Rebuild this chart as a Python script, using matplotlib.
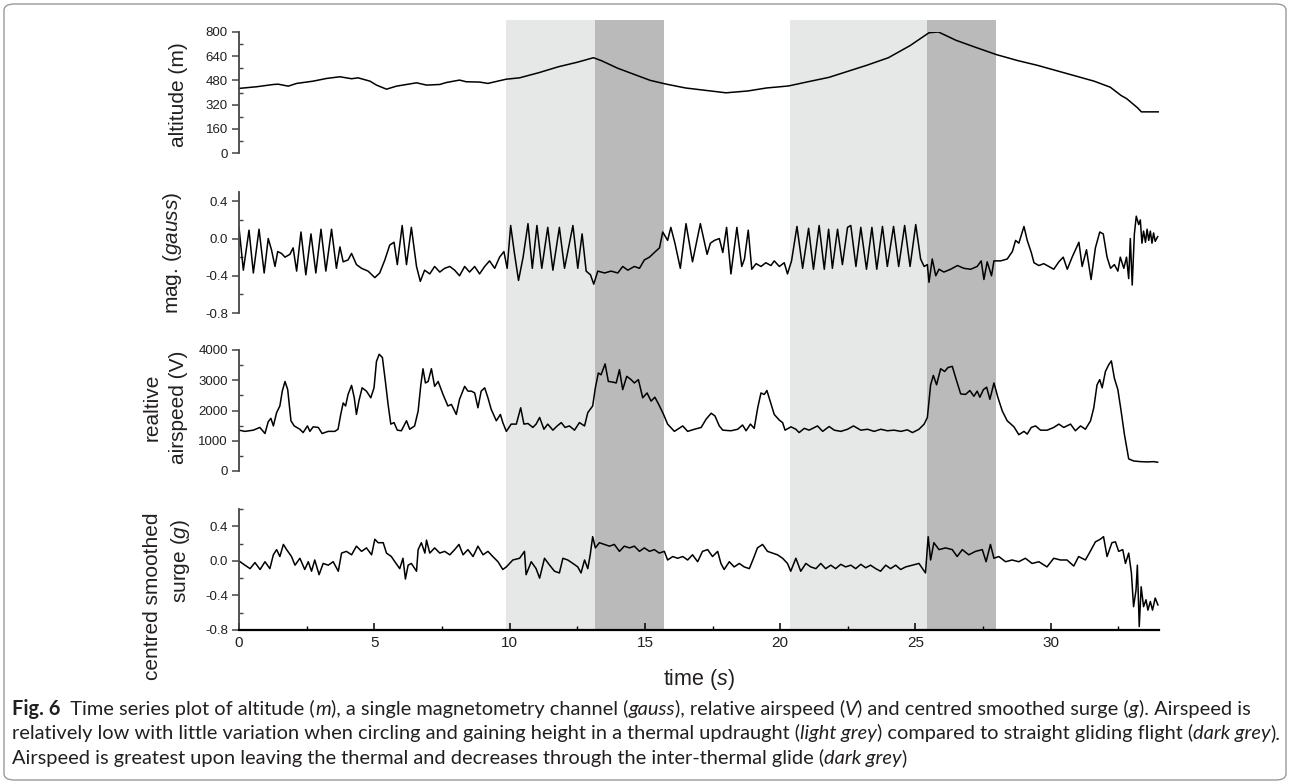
import matplotlib
matplotlib.use("Agg")
import matplotlib.pyplot as plt
from matplotlib.patches import FancyBboxPatch
from matplotlib.ticker import MultipleLocator, FuncFormatter
from matplotlib import font_manager

# ---------------- data ----------------
altitude_pts = [(0.0, 427), (0.65, 438), (1.27, 453), (1.45, 455), (1.82, 442), (2.13, 460), (2.74, 475),
                (3.24, 493), (3.73, 504), (4.16, 491), (4.40, 497), (4.84, 475), (5.08, 449), (5.45, 422),
                (5.82, 442), (6.19, 453), (6.56, 464), (6.93, 449), (7.42, 453), (7.66, 466), (8.15, 482),
                (8.40, 471), (8.89, 469), (9.20, 460), (9.51, 473), (9.88, 488), (10.37, 497), (11.1, 532),
                (11.8, 570), (12.5, 600), (13.1, 630), (13.4, 610), (14.0, 560), (14.6, 520), (15.2, 480),
                (15.8, 455), (16.5, 430), (17.2, 415), (18.0, 398), (18.8, 410), (19.5, 430), (20.3, 443),
                (21.0, 470), (21.8, 500), (22.5, 540), (23.2, 580), (24.0, 630), (24.8, 710), (25.5, 795),
                (25.85, 800), (26.5, 745), (27.2, 700), (28.0, 650), (28.8, 610), (29.5, 580), (30.2, 545),
                (31.0, 505), (31.6, 475), (32.2, 435), (32.6, 380), (32.8, 360), (33.0, 330), (33.2, 300),
                (33.35, 272), (34.0, 272)]

mag_pts = [(0.0, 0.12), (0.16, -0.34), (0.37, 0.09), (0.53, -0.37), (0.74, 0.10), (0.93, -0.37), (1.08, 0.0),
           (1.20, -0.12), (1.33, -0.30), (1.43, -0.14), (1.57, -0.16), (1.70, -0.20), (1.88, -0.17),
           (2.00, -0.10), (2.13, -0.35), (2.29, 0.07), (2.47, -0.39), (2.66, 0.05), (2.84, -0.37),
           (3.03, 0.10), (3.21, -0.35), (3.42, 0.10), (3.60, -0.32), (3.73, -0.09), (3.85, -0.25),
           (4.03, -0.23), (4.16, -0.16), (4.34, -0.28), (4.53, -0.32), (4.77, -0.35), (5.02, -0.42),
           (5.20, -0.37), (5.39, -0.23), (5.57, -0.07), (5.73, -0.04), (5.85, -0.28), (6.03, 0.14),
           (6.19, -0.28), (6.37, 0.12), (6.56, -0.30), (6.70, -0.46), (6.86, -0.34), (7.05, -0.38),
           (7.23, -0.30), (7.42, -0.36), (7.60, -0.32), (7.79, -0.30), (7.97, -0.34), (8.15, -0.40),
           (8.34, -0.30), (8.52, -0.36), (8.71, -0.30), (8.89, -0.38), (9.08, -0.30), (9.26, -0.24),
           (9.45, -0.32), (9.63, -0.20), (9.79, -0.14), (9.91, -0.32), (10.04, 0.14), (10.18, -0.16),
           (10.33, -0.45), (10.50, -0.20), (10.68, 0.16), (10.84, -0.32), (11.01, 0.14), (11.19, -0.32),
           (11.41, 0.12), (11.60, -0.34), (11.84, 0.12), (12.03, -0.32), (12.34, 0.14), (12.52, -0.32),
           (12.68, 0.05), (12.83, -0.35), (12.99, -0.39), (13.11, -0.49), (13.26, -0.35), (13.51, -0.37),
           (13.75, -0.35), (14.00, -0.37), (14.18, -0.30), (14.37, -0.34), (14.61, -0.30), (14.80, -0.32),
           (14.98, -0.23), (15.17, -0.20), (15.35, -0.15), (15.54, -0.10), (15.66, 0.07), (15.84, -0.02),
           (15.96, 0.12), (16.11, -0.05), (16.31, -0.32), (16.52, 0.16), (16.76, -0.25), (17.05, 0.16),
           (17.30, -0.17), (17.42, -0.05), (17.57, -0.02), (17.75, 0.0), (17.88, -0.15), (18.02, 0.12),
           (18.18, -0.38), (18.40, 0.12), (18.58, -0.30), (18.68, -0.22), (18.82, 0.09), (18.95, -0.33),
           (19.11, -0.27), (19.29, -0.30), (19.47, -0.26), (19.66, -0.29), (19.78, -0.24), (19.97, -0.30),
           (20.15, -0.26), (20.27, -0.38), (20.42, -0.24), (20.62, 0.13), (20.83, -0.32), (21.05, 0.11),
           (21.23, -0.33), (21.44, 0.14), (21.63, -0.33), (21.79, 0.10), (21.93, -0.32), (22.12, 0.10),
           (22.30, -0.28), (22.49, 0.12), (22.61, 0.14), (22.80, -0.30), (22.98, 0.12), (23.19, -0.33),
           (23.39, 0.12), (23.57, -0.33), (23.78, 0.13), (23.96, -0.30), (24.19, 0.13), (24.38, -0.30),
           (24.60, 0.14), (24.80, -0.30), (25.01, 0.15), (25.19, -0.22), (25.32, -0.30), (25.44, -0.28),
           (25.50, -0.47), (25.62, -0.22), (25.75, -0.40), (25.87, -0.33), (26.05, -0.36), (26.30, -0.33),
           (26.55, -0.29), (26.79, -0.32), (27.04, -0.33), (27.28, -0.30), (27.43, -0.24), (27.53, -0.44),
           (27.65, -0.25), (27.81, -0.40), (27.90, -0.24), (28.15, -0.24), (28.39, -0.22), (28.58, -0.14),
           (28.70, -0.02), (28.82, -0.05), (29.01, 0.13), (29.13, -0.02), (29.28, -0.15), (29.38, -0.26),
           (29.56, -0.29), (29.74, -0.27), (29.93, -0.30), (30.11, -0.33), (30.30, -0.25), (30.46, -0.20),
           (30.61, -0.33), (30.79, -0.20), (31.04, -0.04), (31.16, -0.30), (31.32, -0.12), (31.49, -0.44),
           (31.65, -0.10), (31.81, 0.07), (31.94, 0.05), (32.08, -0.20), (32.21, -0.32), (32.35, -0.28),
           (32.48, -0.35), (32.57, -0.20), (32.70, -0.32), (32.80, -0.20), (32.88, -0.43), (32.94, 0.0),
           (33.01, -0.50), (33.09, 0.05), (33.16, 0.24), (33.25, 0.15), (33.31, 0.20), (33.37, -0.05),
           (33.43, 0.08), (33.50, -0.04), (33.56, 0.10), (33.62, -0.02), (33.68, 0.08), (33.74, -0.05),
           (33.80, 0.06), (33.86, -0.03), (33.95, 0.02)]

airspeed_pts = [(0.0, 1350), (0.22, 1310), (0.53, 1350), (0.77, 1440), (0.96, 1240), (1.08, 1630), (1.18, 1740),
                (1.27, 1490), (1.39, 1930), (1.51, 2150), (1.60, 2640), (1.70, 2960), (1.80, 2690), (1.92, 1660),
                (2.04, 1490), (2.25, 1380), (2.37, 1270), (2.53, 1490), (2.62, 1310), (2.74, 1460), (2.93, 1440),
                (3.07, 1240), (3.30, 1310), (3.54, 1310), (3.66, 1380), (3.76, 1870), (3.85, 2250), (3.94, 2150),
                (4.03, 2530), (4.16, 2830), (4.26, 2420), (4.34, 1870), (4.43, 2310), (4.55, 2750), (4.71, 2640),
                (4.87, 2420), (4.99, 2750), (5.08, 3620), (5.18, 3860), (5.30, 3750), (5.41, 2960), (5.51, 2200),
                (5.61, 1550), (5.73, 1600), (5.85, 1350), (6.00, 1330), (6.19, 1660), (6.31, 1380), (6.49, 1490),
                (6.62, 1980), (6.72, 2850), (6.80, 3380), (6.89, 2910), (6.99, 2960), (7.11, 3380), (7.23, 2800),
                (7.36, 2960), (7.54, 2530), (7.72, 2150), (7.85, 2200), (8.03, 1870), (8.15, 2370), (8.34, 2800),
                (8.46, 2640), (8.59, 2640), (8.71, 2580), (8.83, 2090), (8.95, 2640), (9.08, 2750), (9.20, 2420),
                (9.32, 2040), (9.51, 1660), (9.66, 1870), (9.75, 1600), (9.88, 1310), (10.06, 1550), (10.25, 1550),
                (10.41, 2090), (10.53, 1550), (10.68, 1570), (10.86, 1440), (10.98, 1550), (11.11, 1770),
                (11.27, 1380), (11.41, 1550), (11.60, 1350), (11.76, 1490), (11.91, 1600), (12.05, 1440),
                (12.21, 1490), (12.40, 1350), (12.58, 1600), (12.77, 1490), (12.89, 1930), (13.07, 2150),
                (13.17, 2750), (13.28, 3240), (13.38, 3180), (13.53, 3540), (13.65, 2960), (13.81, 2940),
                (13.94, 2910), (14.06, 3350), (14.18, 2690), (14.33, 3130), (14.49, 3020), (14.61, 2910),
                (14.76, 3020), (14.92, 2420), (15.08, 2580), (15.23, 2310), (15.37, 2440), (15.54, 2150),
                (15.69, 1870), (15.84, 1550), (16.09, 1310), (16.40, 1490), (16.58, 1310), (16.83, 1380),
                (17.08, 1440), (17.26, 1710), (17.45, 1910), (17.59, 1820), (17.75, 1490), (17.88, 1350),
                (18.18, 1330), (18.43, 1380), (18.61, 1520), (18.74, 1330), (18.90, 1550), (19.04, 1410),
                (19.17, 2090), (19.29, 2580), (19.41, 2530), (19.51, 2660), (19.63, 2310), (19.78, 1870),
                (19.97, 1680), (20.09, 1600), (20.18, 1350), (20.40, 1460), (20.58, 1380), (20.70, 1270),
                (20.89, 1410), (21.07, 1350), (21.38, 1490), (21.57, 1310), (21.81, 1470), (22.00, 1350),
                (22.24, 1310), (22.49, 1380), (22.71, 1490), (22.98, 1350), (23.23, 1380), (23.47, 1310),
                (23.72, 1380), (23.96, 1330), (24.21, 1350), (24.46, 1310), (24.70, 1360), (24.89, 1270),
                (25.13, 1380), (25.32, 1550), (25.44, 1770), (25.56, 2850), (25.66, 3160), (25.78, 2850),
                (25.93, 3380), (26.08, 3290), (26.20, 3420), (26.36, 3460), (26.49, 3070), (26.67, 2550),
                (26.85, 2530), (27.01, 2660), (27.16, 2470), (27.28, 2640), (27.38, 2440), (27.51, 2690),
                (27.63, 2770), (27.75, 2370), (27.90, 2910), (28.05, 2420), (28.21, 1980), (28.39, 1660),
                (28.64, 1460), (28.82, 1200), (29.01, 1310), (29.13, 1220), (29.28, 1440), (29.44, 1490),
                (29.62, 1350), (29.87, 1350), (30.11, 1440), (30.30, 1550), (30.48, 1440), (30.73, 1550),
                (30.91, 1330), (31.10, 1490), (31.28, 1380), (31.47, 1660), (31.59, 2090), (31.71, 2850),
                (31.81, 3020), (31.90, 2750), (32.02, 3290), (32.14, 3510), (32.24, 3640), (32.35, 3070),
                (32.48, 2690), (32.60, 1980), (32.72, 1220), (32.88, 400), (33.07, 330), (33.31, 310),
                (33.56, 300), (33.80, 310), (33.95, 290)]

surge_pts = [(0.04, -0.01), (0.22, -0.05), (0.41, -0.09), (0.59, -0.02), (0.78, -0.10), (0.96, -0.01),
             (1.14, -0.09), (1.27, 0.07), (1.39, 0.13), (1.51, 0.05), (1.64, 0.19), (1.76, 0.13), (1.94, 0.05),
             (2.07, -0.05), (2.25, 0.03), (2.43, -0.10), (2.56, -0.01), (2.68, -0.12), (2.80, 0.01),
             (2.96, -0.16), (3.11, -0.03), (3.30, -0.05), (3.48, -0.01), (3.67, -0.12), (3.79, 0.09),
             (3.97, 0.11), (4.16, 0.07), (4.34, 0.17), (4.53, 0.11), (4.71, 0.15), (4.90, 0.07), (5.02, 0.25),
             (5.14, 0.21), (5.33, 0.21), (5.45, 0.09), (5.63, 0.05), (5.76, -0.01), (5.94, -0.09), (6.06, 0.03),
             (6.15, -0.21), (6.25, -0.05), (6.37, -0.03), (6.56, -0.12), (6.62, 0.13), (6.74, 0.21),
             (6.87, 0.09), (6.93, 0.24), (7.05, 0.09), (7.23, 0.15), (7.42, 0.09), (7.60, 0.11), (7.79, 0.07),
             (7.97, 0.13), (8.13, 0.19), (8.28, 0.07), (8.46, 0.13), (8.65, 0.05), (8.83, 0.17), (9.02, 0.07),
             (9.20, 0.11), (9.38, 0.05), (9.57, -0.01), (9.75, -0.10), (9.88, -0.07), (10.12, 0.01),
             (10.37, 0.03), (10.55, 0.11), (10.61, -0.16), (10.80, -0.01), (10.98, -0.09), (11.11, -0.20),
             (11.29, 0.03), (11.48, -0.05), (11.66, -0.12), (11.84, -0.14), (11.97, 0.03), (12.15, 0.01),
             (12.34, -0.03), (12.52, -0.07), (12.64, -0.14), (12.77, 0.01), (12.89, -0.09), (12.98, 0.07),
             (13.07, 0.28), (13.17, 0.15), (13.32, 0.21), (13.50, 0.19), (13.69, 0.17), (13.87, 0.19),
             (14.06, 0.11), (14.24, 0.17), (14.43, 0.15), (14.61, 0.17), (14.80, 0.11), (14.98, 0.15),
             (15.17, 0.11), (15.35, 0.13), (15.53, 0.09), (15.72, 0.11), (15.84, 0.01), (16.03, 0.05),
             (16.21, 0.03), (16.40, 0.05), (16.58, 0.01), (16.76, 0.07), (16.95, -0.01), (17.13, 0.11),
             (17.32, 0.13), (17.50, 0.05), (17.69, 0.11), (17.81, -0.03), (17.93, -0.10), (18.12, -0.01),
             (18.30, -0.07), (18.49, -0.03), (18.67, -0.07), (18.86, -0.09), (19.04, 0.05), (19.16, 0.15),
             (19.35, 0.19), (19.53, 0.11), (19.72, 0.09), (19.90, 0.07), (20.09, 0.03), (20.27, -0.03),
             (20.39, -0.12), (20.58, 0.03), (20.76, -0.12), (20.95, -0.03), (21.13, -0.07), (21.32, -0.09),
             (21.50, -0.03), (21.68, -0.09), (21.87, -0.05), (22.05, -0.09), (22.24, -0.04), (22.42, -0.07),
             (22.61, -0.05), (22.79, -0.09), (22.98, -0.04), (23.16, -0.08), (23.34, -0.05), (23.53, -0.09),
             (23.71, -0.12), (23.90, -0.05), (24.08, -0.09), (24.27, -0.05), (24.45, -0.10), (24.64, -0.07),
             (24.88, -0.05), (25.13, -0.03), (25.37, -0.14), (25.47, 0.28), (25.56, 0.01), (25.68, 0.21),
             (25.87, 0.13), (26.11, 0.15), (26.36, 0.13), (26.54, 0.05), (26.73, 0.13), (26.97, 0.07),
             (27.22, 0.11), (27.47, 0.13), (27.61, -0.01), (27.77, 0.19), (27.90, 0.03), (28.08, 0.05),
             (28.33, -0.01), (28.57, 0.01), (28.82, -0.01), (29.06, 0.03), (29.31, -0.03), (29.56, -0.01),
             (29.86, -0.07), (30.11, 0.03), (30.36, 0.01), (30.60, 0.01), (30.85, -0.06), (31.03, 0.05),
             (31.28, 0.01), (31.46, 0.11), (31.65, 0.22), (31.83, 0.25), (31.95, 0.28), (32.08, 0.05),
             (32.26, 0.21), (32.39, 0.22), (32.51, 0.11), (32.66, 0.13), (32.76, -0.03), (32.88, 0.09),
             (32.98, -0.14), (33.06, -0.53), (33.15, -0.34), (33.20, -0.05), (33.27, -0.76), (33.34, -0.30),
             (33.43, -0.53), (33.52, -0.45), (33.59, -0.57), (33.68, -0.47), (33.76, -0.57), (33.86, -0.43),
             (33.96, -0.51)]

thermal_spans = [(9.88, 13.14), (20.37, 25.44)]   # light grey
glide_spans = [(13.14, 15.72), (25.44, 27.97)]    # dark grey

# y-label lines per panel: (text, x_px, y_px)
y_label_lines = [
    [("altitude (m)", 179, 95)],
    [(r"mag. ($\mathit{gauss}$)", 172, 253)],
    [("realtive", 152, 407), ("airspeed (V)", 179, 407)],
    [("centred smoothed", 152, 596), (r"surge ($\mathit{g}$)", 180, 561)],
]
x_label = r"time ($\mathit{s}$)"

# ---------------- styling ----------------
avail = {f.name for f in font_manager.fontManager.ttflist}
SANS = "Liberation Sans" if "Liberation Sans" in avail else "DejaVu Sans"
CAP = "Lato" if "Lato" in avail else SANS
plt.rcParams["font.family"] = [SANS, "DejaVu Sans"]
plt.rcParams["mathtext.fontset"] = "custom"
plt.rcParams["mathtext.rm"] = SANS
plt.rcParams["mathtext.it"] = SANS + ":italic"
plt.rcParams["mathtext.bf"] = SANS + ":bold"

W, H = 1290, 784
fig = plt.figure(figsize=(W / 100, H / 100), dpi=100)
fig.patch.set_facecolor("white")


def px_axes(left, top, right, bottom):
    return fig.add_axes([left / W, 1 - bottom / H, (right - left) / W, (bottom - top) / H])


X0, X1 = 239, 1159
XMAX = 34.0
LIGHT = "#e6e7e7"
DARK = "#bababa"
TXT = "#231f20"

# background shading spanning all panels
bg = px_axes(X0, 20, X1, 630)
bg.set_xlim(0, XMAX)
bg.set_ylim(0, 1)
bg.axis("off")
bg.set_zorder(0)
for a, b in thermal_spans:
    bg.axvspan(a, b, color=LIGHT, lw=0)
for a, b in glide_spans:
    bg.axvspan(a, b, color=DARK, lw=0)

panels = [
    (32, 153, altitude_pts, (0, 800), 160, 80, "{:.0f}"),
    (192, 313, mag_pts, (-0.8, 0.5), 0.4, 0.2, "{:.1f}"),
    (350, 471, airspeed_pts, (0, 4000), 1000, 500, "{:.0f}"),
    (509, 630, surge_pts, (-0.8, 0.6), 0.4, 0.2, "{:.1f}"),
]

for i, (top, bot, pts, ylim, major, minor, fmt) in enumerate(panels):
    ax = px_axes(X0, top, X1, bot)
    ax.set_zorder(2)
    ax.set_facecolor("none")
    t, v = zip(*pts)
    ax.plot(t, v, color="black", lw=1.1, solid_joinstyle="round")
    ax.set_xlim(0, XMAX)
    ax.set_ylim(*ylim)
    ax.yaxis.set_major_locator(MultipleLocator(major))
    ax.yaxis.set_minor_locator(MultipleLocator(minor))
    ax.yaxis.set_major_formatter(FuncFormatter(
        lambda val, pos, f=fmt: f.format(0.0 if abs(val) < 1e-9 else val)))
    for s in ("top", "right"):
        ax.spines[s].set_visible(False)
    ax.spines["left"].set_color("#444444")
    ax.spines["left"].set_linewidth(1.3)
    ax.tick_params(axis="y", which="major", direction="out", length=5, width=1.1,
                   color="#444444", labelsize=9.5, labelcolor=TXT, pad=3)
    ax.tick_params(axis="y", which="minor", direction="in", length=3, width=1.0, color="#444444")
    if i < 3:
        ax.spines["bottom"].set_visible(False)
        ax.set_xticks([])
        ax.tick_params(axis="x", which="both", bottom=False, labelbottom=False)
    else:
        ax.spines["bottom"].set_color("black")
        ax.spines["bottom"].set_linewidth(1.6)
        ax.xaxis.set_major_locator(MultipleLocator(5))
        ax.xaxis.set_minor_locator(MultipleLocator(2.5))
        ax.tick_params(axis="x", which="major", direction="in", length=5, width=1.1,
                       labelsize=11, labelcolor=TXT, pad=4)
        ax.tick_params(axis="x", which="minor", direction="in", length=3, width=1.0)
    for txt, lx, ly in y_label_lines[i]:
        fig.text(lx / W, 1 - ly / H, txt, rotation=90, ha="center", va="center",
                 fontsize=15, color=TXT)

fig.text((X0 + X1) / 2 / W, 1 - 679 / H, x_label, ha="center", va="center", fontsize=15.5, color=TXT)

# ---------------- caption ----------------
caption_lines = [
    [("Fig. 6", "normal", "bold"), ("  Time series plot of altitude (", "normal", "normal"), ("m", "italic", "normal"),
     ("), a single magnetometry channel (", "normal", "normal"), ("gauss", "italic", "normal"),
     ("), relative airspeed (", "normal", "normal"), ("V", "italic", "normal"),
     (") and centred smoothed surge (", "normal", "normal"), ("g", "italic", "normal"),
     ("). Airspeed is", "normal", "normal")],
    [("relatively low with little variation when circling and gaining height in a thermal updraught (", "normal", "normal"),
     ("light grey", "italic", "normal"), (") compared to straight gliding flight (", "normal", "normal"),
     ("dark grey", "italic", "normal"), (").", "normal", "normal")],
    [("Airspeed is greatest upon leaving the thermal and decreases through the inter-thermal glide (", "normal", "normal"),
     ("dark grey", "italic", "normal"), (")", "normal", "normal")],
]
renderer = fig.canvas.get_renderer()


def draw_line(parts, x_px, y_px, size, draw=True):
    x = x_px
    made = []
    for txt, style, weight in parts:
        tt = fig.text(x / W, 1 - y_px / H, txt, fontsize=size, fontstyle=style, fontweight=weight,
                      family=[CAP, "DejaVu Sans"], color=TXT, ha="left", va="baseline")
        bb = tt.get_window_extent(renderer)
        x += bb.width
        made.append(tt)
    if not draw:
        for tt in made:
            tt.remove()
    return x - x_px


base_size = 11.0
w = draw_line(caption_lines[1], 12, 739, base_size, draw=False)
cap_size = base_size * 1268 / w
for parts, yb in zip(caption_lines, (715, 739, 764)):
    draw_line(parts, 12, yb, cap_size)

# rounded frame
frame = FancyBboxPatch((4 / W, 4 / H), (W - 8) / W, (H - 8) / H,
                       boxstyle="round,pad=0,rounding_size=0.008", transform=fig.transFigure,
                       facecolor="none", edgecolor="#9a9a9a", lw=1.0, zorder=-1)
fig.patches.append(frame)

fig.savefig("out.png", dpi=100, facecolor="white")
